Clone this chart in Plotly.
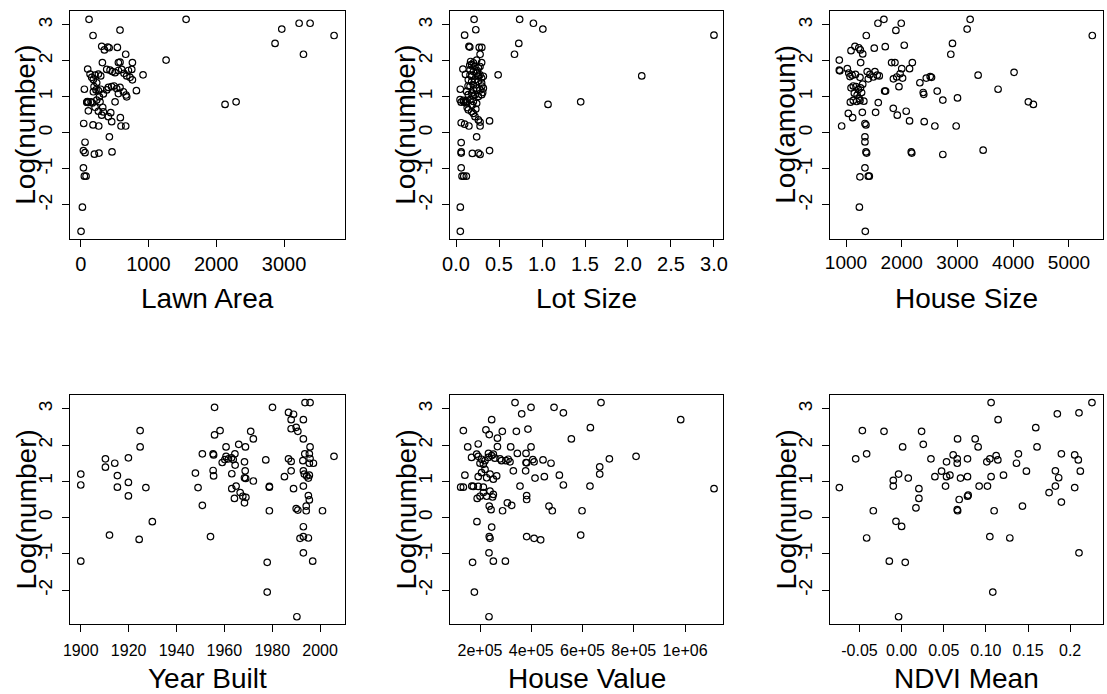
import plotly.graph_objects as go

# ---------------- data ----------------
lawn_area = [123,182,580,1555,310,400,350,420,541,664,320,556,580,763,1260,2868,2967,3223,3385,3287,
             3739,2130,2293,920,822,103,54,44,64,40,64,202,270,462,423,40,54,79,25,5,
             182,266,585,457,595,664,443,507,90,95,100,110,
             138,162,187,212,261,295,236,197,226,187,261,295,276,236,212,261,325,334,384,433,
             467,507,556,605,639,679,728,763,704,753,408,457,492,531,580,630,669,679,556,384,
             334,285,153,172,113,310,408]
lawn_y = [3.15,2.70,2.85,3.15,2.40,2.38,2.30,2.36,2.37,2.18,1.95,1.95,1.96,1.95,2.02,2.48,2.88,3.04,3.04,2.18,
          2.70,0.79,0.86,1.61,1.17,1.77,1.21,0.26,-0.26,-0.49,-0.55,-0.59,-0.56,-0.53,-0.11,-0.97,-1.20,-1.20,-2.06,-2.73,
          0.22,0.19,0.42,0.31,0.19,0.19,0.56,0.86,0.85,0.85,0.87,0.84,
          1.63,1.54,1.48,1.60,1.63,1.58,1.39,1.28,1.19,1.14,1.17,1.21,1.00,0.91,0.71,0.60,0.71,0.58,1.76,1.74,
          1.70,1.67,1.73,1.76,1.65,1.58,1.54,1.47,1.73,1.76,1.26,1.28,1.30,1.23,1.26,1.14,1.05,1.00,1.09,1.19,
          1.08,0.86,0.86,0.83,0.61,0.49,0.45]

lot_size = [0.21,0.74,0.90,1.01,0.23,0.10,3.00,0.73,0.68,0.15,0.16,0.27,0.30,0.28,0.49,2.16,1.07,1.45,0.08,0.05,
            0.06,0.09,0.11,0.12,0.06,0.10,0.15,0.28,0.28,0.39,0.24,0.06,0.06,0.06,0.19,0.26,0.28,0.39,0.06,0.07,
            0.09,0.12,0.05,0.05,
            0.298,0.182,0.221,0.260,0.163,0.202,0.240,0.279,0.318,0.182,0.143,0.221,0.260,0.298,0.202,0.163,0.240,0.279,0.318,0.124,
            0.182,0.221,0.260,0.298,0.047,0.085,0.124,0.163,0.202,0.240,0.143,0.182,0.202,0.221,0.260,0.202,0.163,0.279,0.182,0.260,
            0.202,0.298,0.143,
            0.17,0.25,0.14,0.30,0.20,0.13,0.23,0.11,0.24,0.31,0.19,0.16]
lot_y = [3.15,3.15,3.04,2.88,2.86,2.71,2.71,2.48,2.18,2.40,2.38,2.37,2.37,2.18,1.61,1.58,0.79,0.86,1.77,1.21,
         0.85,0.86,0.85,0.83,0.28,0.24,0.19,0.30,0.19,0.33,-0.11,-0.27,-0.53,-0.56,-0.57,-0.56,-0.60,-0.49,-0.97,-1.20,
         -1.20,-1.20,-2.06,-2.73,
         1.95,1.89,1.84,1.80,1.75,1.70,1.66,1.61,1.57,1.57,1.47,1.47,1.43,1.38,1.33,1.29,1.24,1.19,1.24,1.15,
         1.10,1.06,1.01,1.06,0.92,0.90,0.87,0.92,0.87,0.82,0.64,0.59,0.54,0.45,0.36,1.94,1.61,1.84,1.42,1.57,
         1.19,1.52,1.06,
         1.98,1.72,1.30,1.30,1.02,0.70,0.66,1.62,2.02,1.12,0.77,1.88]

house_size = [880,880,890,922,1024,1050,1072,1090,1161,1230,1257,1263,1300,1364,1251,1042,1119,1078,1130,1190,
              1251,1293,1340,1358,1340,1340,1358,1370,1340,1250,1400,1418,1240,1346,1380,1430,1400,1507,1573,1680,
              1704,1519,1597,1490,1560,1693,1710,1531,1579,1895,1991,2045,1818,1878,1850,1910,1970,2015,2000,2140,
              2190,1950,1848,1920,2080,2140,2170,2180,2325,2440,2510,2534,2385,2395,2403,2594,2636,2737,2737,2880,
              2910,3173,3227,3000,2976,3370,3460,3728,4015,4271,4361,5418,
              1090,1130,1180,1220,1260,1300,1150,1200,1240,1280,1320,1170,1110]
house_y = [2.02,1.74,1.72,0.19,1.78,1.66,1.56,2.28,2.40,2.36,2.30,1.95,2.19,2.70,1.54,0.54,0.42,0.85,0.90,0.87,
           0.90,0.57,0.26,0.22,-0.11,-0.25,-0.53,-0.56,-0.97,-1.22,-1.20,-1.20,-2.06,-2.73,1.70,1.62,1.50,2.35,3.04,3.15,
           2.39,1.70,1.58,1.55,1.60,1.16,1.16,0.57,0.84,2.84,3.04,2.43,1.95,1.95,1.50,1.55,1.64,1.52,1.78,1.78,
           1.95,1.28,0.68,0.49,0.60,0.33,-0.53,-0.56,1.39,1.52,1.56,1.54,1.12,1.07,0.31,0.19,1.16,0.91,-0.60,2.18,
           2.48,2.88,3.15,0.97,0.19,1.60,-0.48,1.21,1.68,0.86,0.79,2.70,
           1.25,1.30,1.28,1.20,1.25,1.35,1.10,1.05,0.95,1.12,0.88,1.62,1.60]

year_built = [1900,1900,1900,1910.3,1910.3,1914.2,1915.3,1915.3,1912,1919.9,
              1919.9,1919.9,1924.8,1924.8,1924.4,1927.2,1929.9,1947.9,1949,1950.8,
              1954.2,1950.8,1955.3,1955.5,1955.3,1955.5,1955.9,1955.9,1958.2,1960.7,
              1960.7,1959.1,1960.2,1961.7,1963,1964.4,1963.7,1966,1968.8,1971,
              1972.1,1964.5,1963.1,1968.4,1968.7,1968.4,1968.9,1972.1,1964.9,1963.1,
              1966.6,1964.2,1967.7,1969,1968.4,1977.3,1978.8,1978.8,1978.8,1977.9,
              1977.9,1980.1,1985.1,1986.8,1988.9,1987.9,1987.9,1990,1990.7,1993,
              1993,1993.7,1995.8,1986.8,1987.9,1987.9,1988.9,1992.8,1993,1993.4,
              1994.4,1995.5,1995.1,1993.6,1995.5,1995.8,1995.8,1997.2,1995.5,1993,
              1995.1,1995.5,1990,1990.7,1994.2,1994.2,2001,1993,1991.6,1993,
              1995.1,1993,1996.9,1990.3,2005.8]
year_y = [1.20,0.90,-1.20,1.62,1.39,1.50,1.16,0.84,-0.48,1.65,
          0.97,0.60,2.40,1.95,-0.60,0.83,-0.11,1.23,0.83,0.34,
          -0.52,1.76,1.76,1.73,1.30,1.15,3.04,2.28,2.40,1.95,
          1.69,1.52,1.60,1.62,1.65,1.76,1.60,2.02,1.95,2.38,
          2.17,1.45,1.21,1.54,1.29,1.10,1.08,1.01,0.87,0.80,
          0.69,0.53,0.59,0.56,0.41,1.59,0.86,0.84,0.19,-1.23,
          -2.05,3.04,1.13,2.90,2.85,2.70,2.45,2.49,2.38,2.70,
          2.17,3.17,3.17,1.62,1.55,1.29,0.80,1.57,1.29,1.20,
          1.15,1.17,1.09,1.76,1.76,1.95,1.63,1.50,1.50,0.87,
          0.61,0.49,0.25,0.21,0.32,0.19,0.19,-0.25,-0.57,-0.52,
          -0.56,-0.97,-1.20,-2.73,1.69]

house_value = [135000,152000,141000,124500,135000,168000,174000,171000,178000,188000,
               193000,167000,187000,193000,206000,200000,219500,223000,236000,245500,
               268000,287000,268000,233000,245500,258000,278000,301000,317000,193000,
               206000,219500,226000,239000,252000,265000,200000,213000,226000,249000,
               189000,236000,243000,245500,236000,239000,235000,252000,299000,235000,
               288000,306700,323600,319700,330000,336600,341800,345700,356000,362600,
               379500,379500,382000,378000,382000,382000,382000,411000,436700,387000,
               399000,399000,406000,411000,414600,445800,451000,469000,482000,477000,
               488800,509600,525200,525200,556400,598000,592800,630600,629000,667000,
               667000,672000,704700,808800,983000,1113000,
               213000,193000,213000,232000,252000,284000,310000,239000,252000]
value_y = [2.40,1.95,1.17,0.84,0.84,0.87,0.86,-1.23,-2.05,-0.11,
           2.03,1.66,1.75,1.69,1.61,1.50,1.57,2.42,2.29,2.70,
           2.19,2.38,1.96,1.77,1.71,1.64,1.62,1.57,1.54,1.13,
           1.24,1.33,1.10,1.20,1.06,1.15,0.59,0.69,0.59,0.57,
           0.53,0.32,0.22,-0.26,-0.52,-0.57,-0.97,-1.20,-1.20,-2.73,
           0.19,0.41,0.34,1.95,1.29,3.17,2.38,1.77,0.87,2.86,
           1.77,1.52,1.51,1.29,0.61,0.50,-0.52,-0.57,-0.61,2.44,
           3.04,1.95,1.60,1.54,1.09,1.59,1.13,0.32,0.19,1.50,
           3.04,1.17,2.89,0.90,2.17,0.19,-0.48,2.48,0.87,1.40,
           1.20,3.17,1.62,1.69,2.70,0.80,
           0.84,0.86,1.47,1.66,1.75,1.57,1.61,0.73,0.64]

ndvi_mean = [-0.0739,-0.0545,-0.0466,-0.0415,-0.0415,-0.0336,-0.0209,-0.0146,-0.0099,-0.0099,
             -0.0067,-0.0036,0.0,-0.0036,0.0012,0.0043,0.0079,0.017,0.0205,0.0205,
             0.0237,0.0257,0.0348,0.0395,0.0474,0.0521,0.0533,0.0533,0.0573,0.0612,
             0.066,0.066,0.0664,0.066,0.0665,0.0683,0.0699,0.0782,0.0782,0.0782,
             0.0790,0.0873,0.0908,0.092,0.1019,0.1011,0.1047,0.1047,0.1062,0.1062,
             0.1082,0.1098,0.1122,0.1142,0.1145,0.1209,0.1284,0.1363,0.1386,0.1434,
             0.1481,0.1592,0.1607,0.175,0.1825,0.1825,0.1848,0.1864,0.1896,0.1896,
             0.2054,0.2054,0.2097,0.2105,0.2121,0.2105,0.2259]
ndvi_y = [0.83,1.62,2.40,1.76,-0.56,0.19,2.38,-1.20,0.87,1.03,
          -0.10,1.20,-0.24,-2.73,1.95,-1.23,1.09,0.27,0.80,0.53,
          2.38,2.02,1.62,1.13,1.28,0.87,1.54,1.13,1.17,1.73,
          1.62,1.50,2.17,0.22,0.19,0.50,1.09,1.62,1.13,0.59,
          0.62,2.17,1.95,0.87,0.87,1.54,1.62,-0.52,3.17,1.13,
          -2.05,0.19,1.71,1.59,2.70,1.17,-0.56,1.50,1.76,0.32,
          1.28,2.48,1.95,0.69,1.29,0.87,2.86,1.10,1.76,0.43,
          0.83,1.73,1.59,2.89,1.28,-0.97,3.17]

x_titles = ["Lawn Area", "Lot Size", "House Size", "Year Built", "House Value", "NDVI Mean"]
y_titles = ["Log(number)", "Log(number)", "Log(amount)", "Log(number)", "Log(number)", "Log(number)"]

y_ticks = [-2, -1, 0, 1, 2, 3]
x_tickvals = [
    [0, 1000, 2000, 3000],
    [0.0, 0.5, 1.0, 1.5, 2.0, 2.5, 3.0],
    [1000, 2000, 3000, 4000, 5000],
    [1900, 1920, 1940, 1960, 1980, 2000],
    [2e5, 4e5, 6e5, 8e5, 1e6],
    [-0.05, 0.0, 0.05, 0.10, 0.15, 0.2],
]
x_ticktext = [
    ["0", "1000", "2000", "3000"],
    ["0.0", "0.5", "1.0", "1.5", "2.0", "2.5", "3.0"],
    ["1000", "2000", "3000", "4000", "5000"],
    ["1900", "1920", "1940", "1960", "1980", "2000"],
    ["2e+05", "4e+05", "6e+05", "8e+05", "1e+06"],
    ["-0.05", "0.00", "0.05", "0.10", "0.15", "0.2"],
]

# ---------------- layout geometry ----------------
W, H = 1107, 694
x_ranges = [[-158, 3900], [-0.07, 3.105], [713, 5610],
            [1895.5, 2010.4], [82900, 1.148e6], [-0.085, 0.239]]
y_range = [-2.93, 3.38]
col_px = [(70, 345), (450, 723), (830, 1103)]
row_px = [(11, 238.5), (395, 624)]
xtick_font = [20, 20, 19, 16, 16, 16]
xtick_standoff = [0, 0, 0, 5, 5, 5]
FONT = "Liberation Sans, Arial, Helvetica, sans-serif"

series = [(lawn_area, lawn_y), (lot_size, lot_y), (house_size, house_y),
          (year_built, year_y), (house_value, value_y), (ndvi_mean, ndvi_y)]

fig = go.Figure()
annotations = []
for i, (xs, ys) in enumerate(series):
    r, c = divmod(i, 3)
    sfx = "" if i == 0 else str(i + 1)
    fig.add_trace(go.Scatter(
        x=xs, y=ys, mode="markers",
        marker=dict(symbol="circle-open", size=6.5, color="black", line=dict(width=1.2, color="black")),
        xaxis="x" + sfx, yaxis="y" + sfx, showlegend=False, hoverinfo="skip"))
    x0, x1 = col_px[c]
    y0, y1 = row_px[r]
    common = dict(showline=True, mirror=True, linecolor="black", linewidth=1.3,
                  ticks="outside", ticklen=7, tickwidth=1.3, tickcolor="black",
                  showgrid=False, zeroline=False, automargin=False)
    fig.layout["xaxis" + sfx] = dict(
        domain=[x0 / W, x1 / W], range=x_ranges[i], anchor="y" + sfx,
        tickmode="array", tickvals=x_tickvals[i], ticktext=x_ticktext[i],
        ticklabelstandoff=xtick_standoff[i],
        tickfont=dict(family=FONT, size=xtick_font[i], color="black"), **common)
    fig.layout["yaxis" + sfx] = dict(
        domain=[1 - y1 / H, 1 - y0 / H], range=y_range, anchor="x" + sfx,
        tickmode="array", tickvals=y_ticks, ticktext=[str(v) for v in y_ticks],
        tickangle=-90, ticklabelstandoff=2,
        tickfont=dict(family=FONT, size=19, color="black"), **common)
    # x title
    annotations.append(dict(text=x_titles[i], xref="paper", yref="paper",
                            x=(x0 + x1) / 2 / W, y=1 - (298 if r == 0 else 678) / H,
                            xanchor="center", yanchor="middle", showarrow=False,
                            font=dict(family=FONT, size=28, color="black")))
    # y title
    annotations.append(dict(text=y_titles[i], xref="paper", yref="paper",
                            x=(x0 - 44) / W, y=1 - (y0 + y1) / 2 / H,
                            xanchor="center", yanchor="middle", showarrow=False, textangle=-90,
                            font=dict(family=FONT, size=28, color="black")))

fig.update_layout(width=W, height=H, margin=dict(l=0, r=0, t=0, b=0, pad=0, autoexpand=False),
                  paper_bgcolor="white", plot_bgcolor="white",
                  annotations=annotations)
fig.write_html("out.html")
